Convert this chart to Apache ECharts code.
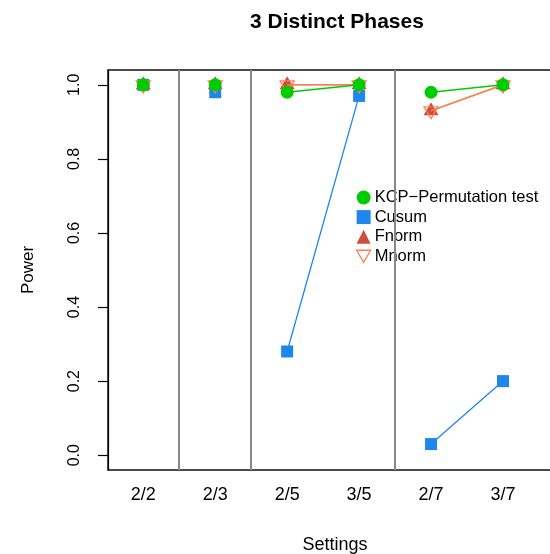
<!DOCTYPE html>
<html>
<head>
<meta charset="utf-8">
<script src="https://cdn.jsdelivr.net/npm/echarts@6/dist/echarts.min.js"></script>
<style>
  html, body { margin: 0; padding: 0; background: #fff; }
  #chart { width: 550px; height: 554px; }
</style>
</head>
<body>
<div id="chart"></div>
<script>
// Settings along the x axis (positions 1..6)
const settings = ['2/2', '2/3', '2/5', '3/5', '2/7', '3/7'];
// Groups of settings that are joined by a line; groups are separated by vertical rules
const groups = [[0], [1], [2, 3], [4, 5]];
const separators = [1.5, 2.5, 4.5];

// Power for each method, one value per setting
const kcpPower   = [1.00, 1.00, 0.98, 1.00, 0.98, 1.00];
const cusumPower = [1.00, 0.98, 0.28, 0.97, 0.03, 0.20];
const fnormPower = [1.00, 1.00, 1.00, 1.00, 0.93, 1.00];
const mnormPower = [1.00, 1.00, 1.00, 1.00, 0.93, 1.00];

const yTicks = [0, 0.2, 0.4, 0.6, 0.8, 1.0];

const FONT = "'Liberation Sans', Arial, Helvetica, sans-serif";

// Build [x, y] pairs with breaks between groups so lines only join points in the same group
function groupedData(values) {
  const out = [];
  groups.forEach((g, gi) => {
    if (gi > 0) out.push([g[0] + 0.5, '-']);
    g.forEach(i => out.push([i + 1, values[i]]));
  });
  return out;
}

const colors = {
  kcp: '#00CD00',
  cusum: '#1E86EE',
  fnorm: '#CD4F39',
  mnorm: '#FF7F50'
};

const downTriangle = 'path://M0,0 L20,0 L10,17.3 Z';

const chart = echarts.init(document.getElementById('chart'), null, { renderer: 'canvas' });

chart.setOption({
  animation: false,
  backgroundColor: '#fff',
  textStyle: { fontFamily: FONT },
  title: {
    text: '3 Distinct Phases',
    left: 245,
    top: 7,
    textStyle: { fontFamily: FONT, fontSize: 21, fontWeight: 'bold', color: '#000' }
  },
  grid: {
    left: 108,
    top: 70,
    width: 454,
    height: 400,
    outerBoundsMode: 'none',
    containLabel: false,
    show: true,
    borderColor: '#111',
    borderWidth: 1.5,
    backgroundColor: 'transparent'
  },
  legend: {
    orient: 'vertical',
    left: 352,
    top: 180,
    padding: [9, 6, 10, 4],
    itemGap: 2.6,
    itemWidth: 14,
    itemHeight: 14,
    backgroundColor: '#fff',
    selectedMode: false,
    textStyle: { fontFamily: FONT, fontSize: 16.5, color: '#000', padding: [0, 0, 0, -1] },
    data: [
      { name: 'KCP\u2212Permutation test', icon: 'circle', itemStyle: { color: colors.kcp } },
      { name: 'Cusum', icon: 'rect', itemStyle: { color: colors.cusum } },
      { name: 'Fnorm', icon: 'triangle', itemStyle: { color: colors.fnorm } },
      { name: 'Mnorm', icon: downTriangle,
        itemStyle: { color: 'transparent', borderColor: colors.mnorm, borderWidth: 1.3 } }
    ]
  },
  xAxis: {
    type: 'value',
    min: 0.51,
    max: 6.82,
    name: 'Settings',
    nameLocation: 'middle',
    nameGap: 66,
    nameTextStyle: { fontFamily: FONT, fontSize: 18, color: '#000' },
    axisLine: { show: false },
    axisTick: { show: false },
    splitLine: { show: false },
    axisLabel: {
      customValues: [1, 2, 3, 4, 5, 6],
      formatter: v => settings[Math.round(v) - 1] || '',
      margin: 16,
      fontFamily: FONT,
      fontSize: 18,
      color: '#000'
    }
  },
  yAxis: {
    type: 'value',
    min: -0.04,
    max: 1.04,
    name: 'Power',
    nameLocation: 'middle',
    nameRotate: 90,
    nameGap: 71,
    nameTextStyle: { fontFamily: FONT, fontSize: 17, color: '#000' },
    axisLine: { show: true, lineStyle: { color: '#000', width: 1.2 } },
    axisTick: {
      show: true,
      customValues: yTicks,
      length: 10,
      lineStyle: { color: '#000', width: 1.2 }
    },
    splitLine: { show: false },
    axisLabel: {
      customValues: yTicks,
      rotate: 90,
      margin: 25,
      formatter: v => v.toFixed(1),
      fontFamily: FONT,
      fontSize: 16,
      color: '#000'
    }
  },
  series: [
    {
      name: 'Cusum',
      type: 'line',
      data: groupedData(cusumPower),
      connectNulls: false,
      symbol: 'rect',
      symbolSize: 12,
      itemStyle: { color: colors.cusum },
      lineStyle: { color: colors.cusum, width: 1.3 },
      emphasis: { disabled: true },
      markLine: {
        silent: true,
        symbol: ['none', 'none'],
        label: { show: false },
        lineStyle: { color: '#888', width: 2, type: 'solid' },
        data: separators.map(x => ({ xAxis: x }))
      },
      z: 2
    },
    {
      name: 'Fnorm',
      type: 'line',
      data: groupedData(fnormPower),
      connectNulls: false,
      symbol: 'triangle',
      symbolSize: [15, 13],
      symbolOffset: [0, -2],
      itemStyle: { color: colors.fnorm },
      lineStyle: { color: colors.fnorm, width: 1.3, opacity: 0.6 },
      emphasis: { disabled: true },
      z: 3
    },
    {
      name: 'Mnorm',
      type: 'line',
      data: groupedData(mnormPower),
      connectNulls: false,
      symbol: downTriangle,
      symbolSize: [14, 12],
      symbolOffset: [0, 2],
      itemStyle: { color: 'transparent', borderColor: colors.mnorm, borderWidth: 1.3 },
      lineStyle: { color: colors.mnorm, width: 1.6 },
      emphasis: { disabled: true },
      z: 4
    },
    {
      name: 'KCP\u2212Permutation test',
      type: 'line',
      data: groupedData(kcpPower),
      connectNulls: false,
      symbol: 'circle',
      symbolSize: 13,
      itemStyle: { color: colors.kcp },
      lineStyle: { color: colors.kcp, width: 1.5 },
      emphasis: { disabled: true },
      z: 5
    }
  ]
});
</script>
</body>
</html>
